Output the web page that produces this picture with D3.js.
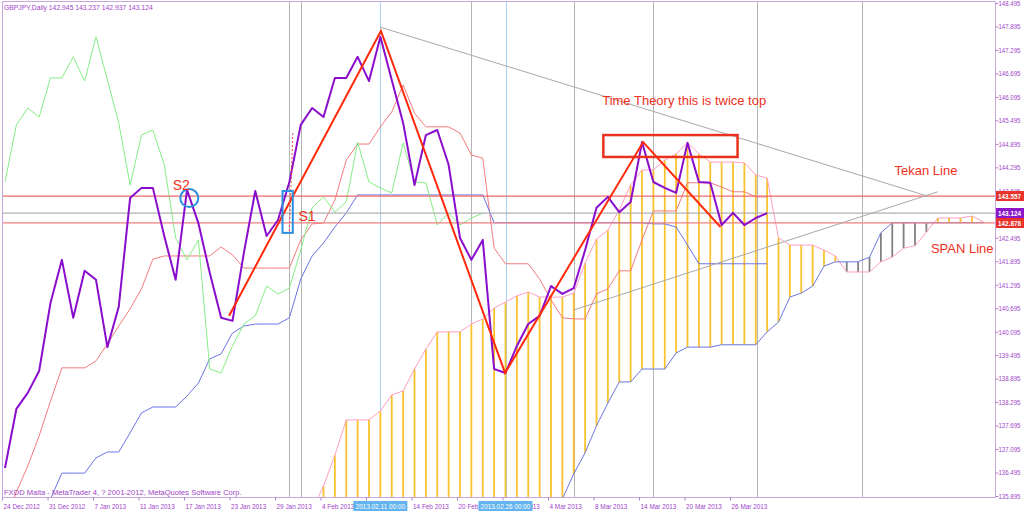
<!DOCTYPE html>
<html><head><meta charset="utf-8">
<script src="https://cdn.jsdelivr.net/npm/d3@7"></script>
<style>body{margin:0;background:#fff}svg{display:block;font-family:"Liberation Sans",Arial,sans-serif}</style>
</head><body><svg id="c" width="1024" height="512"></svg>
<script>
// ---------- DATA ----------
const symbolTitle = "GBPJPY,Daily  142.945 143.237 142.937 143.124";
const footerText = "FXDD Malta - MetaTrader 4, ? 2001-2012, MetaQuotes Software Corp.";
const barCount = 88;
const dateLabels = ["24 Dec 2012","31 Dec 2012","7 Jan 2013","11 Jan 2013","17 Jan 2013","23 Jan 2013","29 Jan 2013","4 Feb 2013","8 Feb 2013","14 Feb 2013","20 Feb 2013","26 Feb 2013","4 Mar 2013","8 Mar 2013","14 Mar 2013","20 Mar 2013","26 Mar 2013"];
const dateLabelBars = [0,4,8,12,16,20,24,28,32,36,40,44,48,52,56,60,64];
const priceTicks = [148.495,147.895,147.295,146.695,146.095,145.495,144.895,144.295,143.695,143.095,142.495,141.895,141.295,140.695,140.095,139.495,138.895,138.295,137.695,137.095,136.495,135.895];

const closePrices = [136.61,138.12,138.53,139.09,140.83,141.93,140.45,141.65,141.42,139.70,
 140.73,143.51,143.77,143.77,142.54,141.42,143.72,142.87,141.60,140.45,
 140.37,142.11,143.69,142.54,142.95,143.92,145.38,145.81,145.58,146.58,
 146.58,147.12,146.50,147.63,146.53,145.43,143.84,145.12,145.25,144.36,
 142.49,141.93,142.44,139.14,139.04,139.73,140.29,140.50,141.26,141.06,
 141.21,142.18,143.26,143.54,143.15,143.41,144.94,143.92,143.77,143.64,
 144.92,143.92,143.90,142.82,143.13,142.82,143.00,143.124];

const tenkan = [135.23,136.00,136.66,137.43,138.32,139.17,139.17,139.17,139.35,139.78,
 140.24,140.68,141.19,141.95,142.03,142.03,142.03,142.03,142.03,142.26,
 142.06,141.72,141.72,141.72,141.72,141.72,142.44,142.85,142.87,143.46,
 144.48,144.89,144.89,145.33,145.71,146.40,145.68,145.33,145.33,145.33,
 145.17,144.61,144.53,142.23,141.83,141.83,141.83,141.44,140.91,140.45,
 140.42,140.42,141.06,141.19,141.65,141.65,142.44,143.18,143.18,143.18,
 143.90,143.90,143.90,143.79,143.67,143.67,143.54,143.54];

const kijunStart = 3;
const kijun = [135.00,135.82,136.48,136.48,136.48,136.87,137.02,137.02,137.51,138.02,
 138.17,138.17,138.17,138.45,138.78,139.40,139.53,140.06,140.24,140.29,
 140.29,140.29,140.45,141.44,142.03,142.36,142.77,143.13,143.59,143.59,
 143.59,143.59,143.59,143.59,143.59,143.59,143.59,143.59,143.59,143.59,
 142.878,142.878,142.878,142.878,142.878,142.878,142.878,142.878,142.878,142.878,
 142.878,142.878,142.878,142.878,142.85,142.85,142.77,142.31,141.83,141.83,
 141.83,141.83,141.83,141.83,141.83];

const chikouShift = 25;

const spanStart = 27;
const spanA = [135.54,136.15,136.94,137.84,137.84,137.84,138.07,138.48,138.58,139.14,
 139.65,140.09,140.09,140.09,140.29,140.42,140.70,140.85,141.01,141.11,
 140.98,140.98,140.98,141.08,141.85,142.46,142.69,143.21,143.84,144.23,
 144.23,144.48,144.64,144.92,144.64,144.43,144.43,144.43,144.41,144.10,
 144.02,142.49,142.31,142.31,142.31,142.18,142.03,141.62,141.62,141.62,
 141.88,142.00,142.23,142.29,142.64,143.00,143.00,143.00,143.05,142.90];
const spanB = [134.00,134.00,134.00,134.00,134.00,134.00,134.00,134.00,134.00,134.00,
 134.20,134.20,134.20,134.40,134.40,134.40,134.60,134.60,134.60,134.80,
 135.00,135.27,135.82,136.46,137.00,137.69,138.27,138.81,138.81,139.14,
 139.14,139.14,139.55,139.70,139.70,139.70,139.76,139.76,139.76,139.76,
 140.09,140.34,140.98,141.08,141.26,141.77,141.88,141.88,141.88,142.00,
 142.62,142.878,142.878,142.878,142.878,142.878,142.878,142.878,142.878,142.878];

const hLinePrices = [143.557, 143.124, 142.878];
const hLineKinds = ["red", "bid", "red2"];
const vLineBars = [25, 26, 33, 41, 44, 50, 57, 66.1, 75.3];
const vLineKinds = ["gray","gray","blue","gray","blue","gray","gray","gray","gray"];
const vLineLabelBars = [33, 44];
const vLineLabels = ["2013.02.11 00:00", "2013.02.26 00:00"];

const zigzagBars = [19.7, 33.05, 43.96, 56.1, 62.9];
const zigzagPrices = [140.50, 147.78, 139.04, 144.94, 142.77];
const tekanLineBars = [32.97, 81.1];
const tekanLinePrices = [147.88, 143.56];
const spanLineBars = [50.0, 82.0];
const spanLinePrices = [140.65, 143.67];
const dottedBars = [25.3, 25.0];
const dottedPrices = [145.17, 142.64];
const blueBoxBars = [24.4, 25.3];
const blueBoxPrices = [143.69, 142.62];
const circleBar = 16.2, circlePrice = 143.51;
const redBoxBars = [52.6, 64.4];
const redBoxPrices = [145.12, 144.56];

const noteTexts = ["S2", "S1", "Time Theory this is twice top", "Tekan Line", "SPAN Line"];
const noteBars = [14.75, 25.8, 52.5, 78.2, 81.4];
const notePrices = [143.72, 142.92, 145.89, 144.10, 142.11];

// ---------- DRAW ----------
const svg = d3.select("#c");
const L = 2, R = 995, T = 1, B = 497;
const x = d3.scaleLinear().domain([0, barCount - 1]).range([5, 5 + (barCount - 1) * 11.375]);
const y = d3.scaleLinear().domain([135.895, 148.495]).range([496, 3]);
const purple = "#a044c8";
function condense(sel, f) {
  sel.each(function(){ const w = this.getComputedTextLength(); d3.select(this).attr("textLength", w*f).attr("lengthAdjust","spacingAndGlyphs"); });
}

svg.append("rect").attr("width",1024).attr("height",512).attr("fill","#fff");
svg.append("defs").append("clipPath").attr("id","clip").append("rect")
  .attr("x",L).attr("y",T).attr("width",R-L).attr("height",B-T);
const g = svg.append("g").attr("clip-path","url(#clip)");

// vertical lines
g.selectAll("line.v").data(vLineBars).join("line")
  .attr("x1",d=>Math.round(x(d))+0.5).attr("x2",d=>Math.round(x(d))+0.5).attr("y1",T).attr("y2",B)
  .attr("stroke",(d,i)=>vLineKinds[i]==="blue"?"#a8d0f0":"#b4b4b4").attr("stroke-width",1);

// cloud hatch
const cloud = spanA.map((a,k)=>({i:spanStart+k, a, b:spanB[k]}));
g.selectAll("line.h").data(cloud).join("line")
  .attr("x1",d=>x(d.i)).attr("x2",d=>x(d.i)).attr("y1",d=>y(d.a)).attr("y2",d=>y(d.b))
  .attr("stroke",d=>d.a>=d.b?"#f9c12c":"#808080").attr("stroke-width",1.8);

const line = d3.line().x(d=>x(d.i)).y(d=>y(d.v));
const series = (arr, start) => arr.map((v,k)=>({i:start+k, v}));

g.append("path").datum(series(spanA, spanStart)).attr("d", line).attr("fill","none").attr("stroke","#ff9ec4").attr("stroke-width",1);
g.append("path").datum(series(spanB, spanStart)).attr("d", line).attr("fill","none").attr("stroke","#6a78de").attr("stroke-width",1);
g.append("path").datum(series(tenkan, 0)).attr("d", line).attr("fill","none").attr("stroke","#f27b7b").attr("stroke-width",1);
g.append("path").datum(series(kijun, kijunStart)).attr("d", line).attr("fill","none").attr("stroke","#6a74e6").attr("stroke-width",1);
g.append("path").datum(series(closePrices.slice(chikouShift), 0)).attr("d", line).attr("fill","none").attr("stroke","#86ee86").attr("stroke-width",1);

// horizontal lines
g.selectAll("line.hl").data(hLinePrices).join("line")
  .attr("x1",L).attr("x2",R).attr("y1",d=>y(d)).attr("y2",d=>y(d))
  .attr("stroke",(d,i)=>hLineKinds[i]==="bid"?"#b0b0b0":(hLineKinds[i]==="red"?"#f06a6a":"#f08080")).attr("stroke-width",1.3);

// close line
g.append("path").datum(series(closePrices, 0)).attr("d", line).attr("fill","none").attr("stroke","#8a0ccc").attr("stroke-width",2).attr("stroke-linejoin","round");

// gray trend lines
const pts = (bs, ps) => bs.map((b,k)=>[x(b), y(ps[k])]);
g.append("path").attr("d", d3.line()(pts(tekanLineBars, tekanLinePrices))).attr("stroke","#a8a8a8").attr("fill","none");
g.append("path").attr("d", d3.line()(pts(spanLineBars, spanLinePrices))).attr("stroke","#a8a8a8").attr("fill","none");
// red zigzag
g.append("path").attr("d", d3.line()(pts(zigzagBars, zigzagPrices))).attr("stroke","#ff2a0a").attr("stroke-width",2).attr("fill","none");
// dotted red
g.append("path").attr("d", d3.line()(pts(dottedBars, dottedPrices))).attr("stroke","#f04040").attr("stroke-width",1).attr("stroke-dasharray","2,2").attr("fill","none");
// blue box
g.append("rect").attr("x",x(blueBoxBars[0])).attr("y",y(blueBoxPrices[0]))
  .attr("width",x(blueBoxBars[1])-x(blueBoxBars[0])).attr("height",y(blueBoxPrices[1])-y(blueBoxPrices[0]))
  .attr("fill","none").attr("stroke","#2a8ee0").attr("stroke-width",2);
// blue circle
g.append("circle").attr("cx",x(circleBar)).attr("cy",y(circlePrice)).attr("r",9)
  .attr("fill","none").attr("stroke","#2a8ee0").attr("stroke-width",2);
// red box
g.append("rect").attr("x",x(redBoxBars[0])).attr("y",y(redBoxPrices[0]))
  .attr("width",x(redBoxBars[1])-x(redBoxBars[0])).attr("height",y(redBoxPrices[1])-y(redBoxPrices[0]))
  .attr("fill","none").attr("stroke","#e8321e").attr("stroke-width",2.5);

// notes
g.selectAll("text.note").data(noteTexts).join("text")
  .attr("x",(d,i)=>x(noteBars[i])).attr("y",(d,i)=>y(notePrices[i]))
  .attr("fill","#f0301a").attr("font-size",(d,i)=>i<2?14:13).text(d=>d);

// frame
svg.append("path").attr("d",`M${L+0.5},${B+0.5}V${T+0.5}H${R+0.5}V${B+0.5}H${L+0.5}`).attr("fill","none").attr("stroke","#c9a6de");

// title + footer
svg.append("text").attr("x",4).attr("y",10).attr("font-size",7.4).attr("fill",purple).text(symbolTitle).call(condense, 0.92);
svg.append("text").attr("x",4).attr("y",495).attr("font-size",7.8).attr("fill",purple).text(footerText).call(condense, 0.97);

// right axis
const ya = svg.append("g").attr("transform",`translate(${R+0.5},0)`)
  .call(d3.axisRight(y).tickValues(priceTicks).tickSize(3).tickPadding(0).tickFormat(d3.format(".3f")));
ya.select(".domain").remove();
ya.selectAll(".tick line").attr("stroke","#b080d0");
ya.selectAll(".tick text").attr("fill",purple).attr("font-size",7.4).attr("font-family","Liberation Sans, Arial").call(condense, 0.82);

// price labels
const plabels = [{p:hLinePrices[0], c:"#e8322a"}, {p:closePrices[closePrices.length-1], c:"#8a18c8"}, {p:hLinePrices[2], c:"#e8322a"}];
const pl = svg.selectAll("g.pl").data(plabels).join("g").attr("transform",d=>`translate(996,${Math.round(y(d.p))})`);
pl.append("rect").attr("x",0).attr("y",-5).attr("width",28).attr("height",10).attr("fill",d=>d.c);
pl.append("text").attr("x",2).attr("y",3).attr("font-size",7.4).attr("font-weight","bold").attr("fill","#fff").text(d=>d3.format(".3f")(d.p)).attr("textLength",23).attr("lengthAdjust","spacingAndGlyphs");

// bottom axis
const xa = svg.append("g").attr("transform",`translate(-3,${B+0.5})`)
  .call(d3.axisBottom(x).tickValues(dateLabelBars).tickSize(3).tickFormat((d,i)=>dateLabels[i]));
xa.select(".domain").remove();
xa.selectAll(".tick line").attr("stroke","#b080d0");
xa.selectAll(".tick text").attr("fill",purple).attr("font-size",7.8).attr("text-anchor","start").attr("dx",1).attr("y",6).attr("dy","0.71em").call(condense, 0.82);

// highlighted vertical line labels
const hl = svg.selectAll("g.hl").data(vLineLabels).join("g").attr("transform",(d,i)=>`translate(${x(vLineLabelBars[i])},501)`);
hl.append("rect").attr("x",-27).attr("y",0).attr("width",54).attr("height",10).attr("fill","#62b3ee");
hl.append("text").attr("x",0).attr("y",8).attr("text-anchor","middle").attr("font-size",7.8).attr("fill","#fff").text(d=>d).call(condense, 0.82);
</script></body></html>
